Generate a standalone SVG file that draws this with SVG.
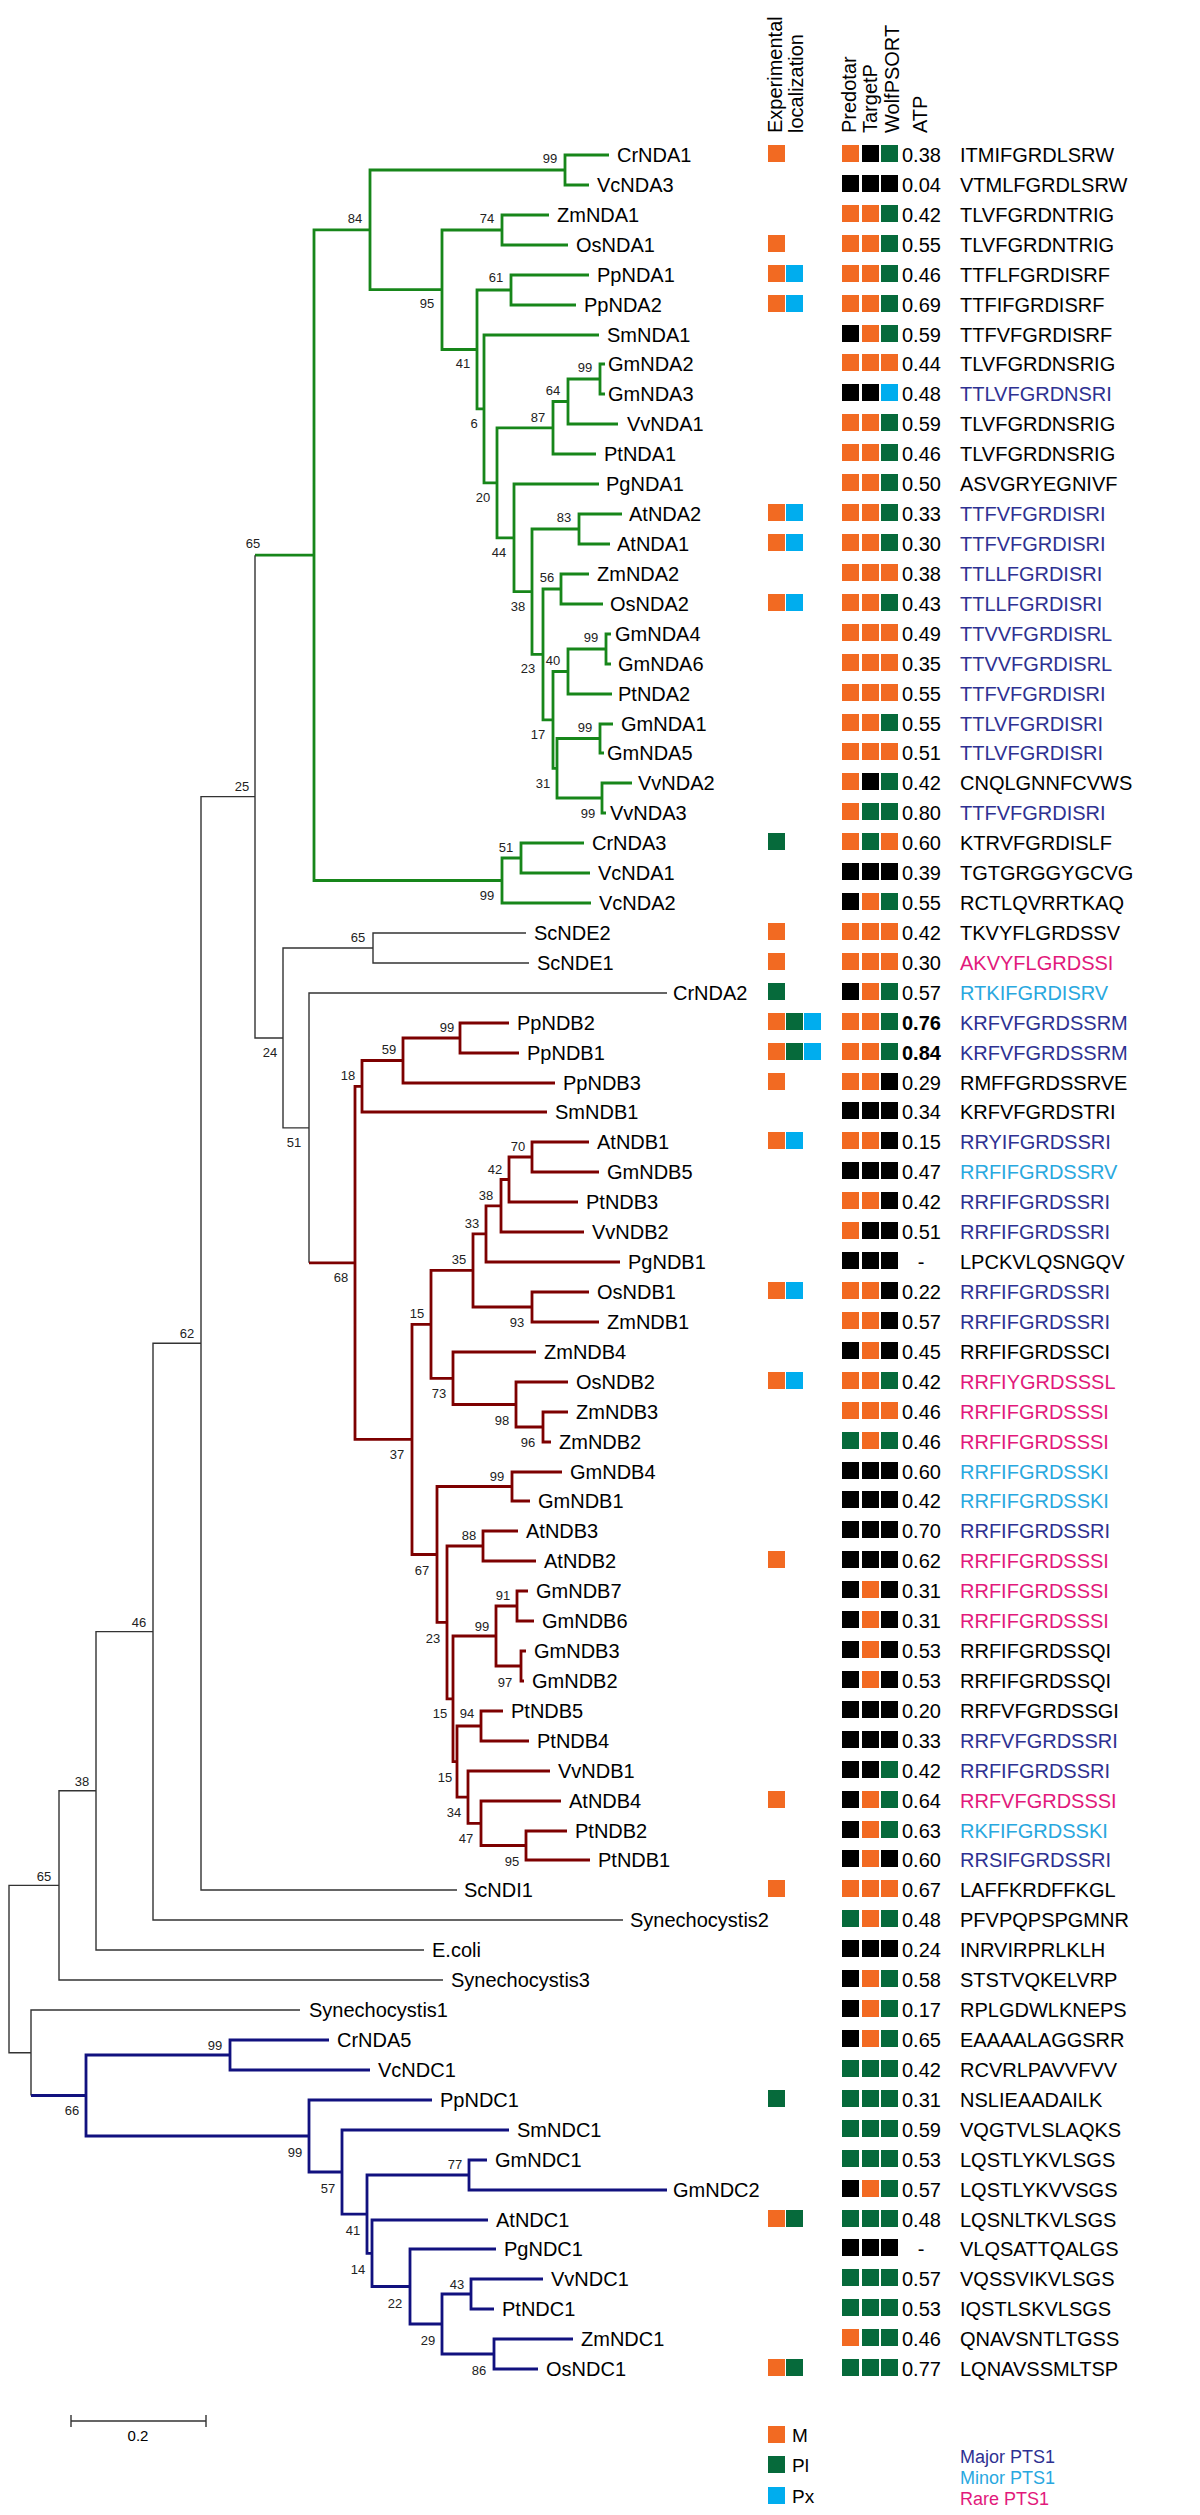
<svg xmlns="http://www.w3.org/2000/svg" xmlns:xlink="http://www.w3.org/1999/xlink" width="1200" height="2515" viewBox="0 0 1200 2515">
<style>
text{font-family:"Liberation Sans",Arial,sans-serif;fill:#000}
.n,.a,.s{font-size:20px}
.hd{font-size:20px}
.bs{font-size:13px;fill:#222;text-anchor:middle}
.maj{fill:#2e3192}.min{fill:#29a8df}.rare{fill:#e2197b}
.e{fill:none;stroke-linejoin:miter;stroke-linecap:butt}
.g{stroke:#17861a;stroke-width:2.8}
.r{stroke:#7d0000;stroke-width:2.8}
.b{stroke:#11117f;stroke-width:2.8}
.k{stroke:#333;stroke-width:1.4}
.lg{font-size:19px}
.pt{font-size:18px}
</style>
<defs>
<rect id="O" width="17" height="17" fill="#f26a22"/>
<rect id="G" width="17" height="17" fill="#066a3b"/>
<rect id="B" width="17" height="17" fill="#00adee"/>
<rect id="K" width="17" height="17" fill="#000"/>
</defs>
<rect width="1200" height="2515" fill="#fff"/>

<g id="connectors">
<path class="e g" d="M609,155H565V185H589M549,215H502V245H568M589,275H511V305H576M605,364H600V394H605M600,379H568V424H618M568,401.5H553V454H596M622,514H579V544H610M589,574H561V604H603M611,634H606V664H611M606,649H568V694H612M613,724H600V753H604M632,783H602V813H606M600,738.5H557V798H602M568,671.5H553V768.3H557M561,589H543V719.9H553M579,529H532V654.4H543M599,484H514V591.7H532M553,427.8H497V537.9H514M599,335H484V482.8H497M511,290H477V408.9H484M502,230H442V349.5H477M565,170H370V289.7H442M584,843H521V873H590M521,858H502V903H591M370,229.9H314V880.5H502M255,555.2H314"/>
<path class="e k" d="M526,933H373V963H529M373,948H283V1127.9H309M667,993H309V1262.8M255,555.2V1038H283M255,796.6H201V1890H457M201,1343.3H153V1920H623M153,1631.6H96V1950H424M96,1790.8H59V1980H443M59,1885.4H9V2052.8H31M300,2010H31V2095.5"/>
<path class="e r" d="M509,1023H460V1053H519M460,1038H403V1083H555M403,1060.5H362V1112H547M589,1142H532V1172H599M532,1157H509V1202H578M509,1179.5H501V1232H584M501,1205.8H486V1262H620M589,1292H532V1322H599M486,1233.9H473V1307H532M568,1412H543V1442H551M568,1382H516V1427H543M536,1352H453V1404.5H516M473,1270.4H431V1378.3H453M562,1472H512V1501H530M518,1531H483V1561H536M528,1591H517V1621H534M526,1651H521V1681H524M517,1606H496V1666H521M503,1711H481V1741H529M567,1831H526V1860H590M561,1801H481V1845.5H526M550,1771H468V1823.3H481M481,1726H457V1797.1H468M496,1636H453V1761.6H457M483,1546H447V1698.8H453M512,1486.5H437V1622.4H447M431,1324.3H412V1554.5H437M362,1086.3H355V1439.4H412M309,1262.8H355"/>
<path class="e b" d="M329,2040H230V2070H370M487,2160H469V2190H667M543,2279H471V2309H494M573,2339H494V2369H538M471,2294H442V2354H494M496,2249H410V2324H442M488,2220H372V2286.5H410M469,2175H367V2253.3H372M509,2130H342V2214.1H367M432,2100H309V2172H342M230,2055H86V2136H309M31,2095.5H86"/>
</g>

<g id="bootstrap">
<text class="bs" x="550" y="163">99</text><text class="bs" x="355" y="223">84</text><text class="bs" x="487" y="223">74</text><text class="bs" x="427" y="308">95</text><text class="bs" x="496" y="282">61</text><text class="bs" x="463" y="368">41</text><text class="bs" x="474" y="428">6</text><text class="bs" x="585" y="372">99</text><text class="bs" x="553" y="395">64</text><text class="bs" x="538" y="422">87</text><text class="bs" x="483" y="502">20</text><text class="bs" x="499" y="557">44</text><text class="bs" x="564" y="522">83</text><text class="bs" x="518" y="611">38</text><text class="bs" x="547" y="582">56</text><text class="bs" x="528" y="673">23</text><text class="bs" x="591" y="642">99</text><text class="bs" x="553" y="665">40</text><text class="bs" x="538" y="739">17</text><text class="bs" x="585" y="732">99</text><text class="bs" x="543" y="788">31</text><text class="bs" x="588" y="818">99</text><text class="bs" x="506" y="852">51</text><text class="bs" x="487" y="900">99</text><text class="bs" x="253" y="548">65</text>
<text class="bs" x="242" y="791">25</text><text class="bs" x="358" y="942">65</text><text class="bs" x="270" y="1057">24</text><text class="bs" x="294" y="1147">51</text><text class="bs" x="187" y="1338">62</text><text class="bs" x="139" y="1627">46</text><text class="bs" x="82" y="1786">38</text><text class="bs" x="44" y="1881">65</text>
<text class="bs" x="447" y="1032">99</text><text class="bs" x="389" y="1054">59</text><text class="bs" x="348" y="1080">18</text><text class="bs" x="518" y="1151">70</text><text class="bs" x="495" y="1174">42</text><text class="bs" x="486" y="1200">38</text><text class="bs" x="472" y="1228">33</text><text class="bs" x="459" y="1264">35</text><text class="bs" x="517" y="1327">93</text><text class="bs" x="417" y="1318">15</text><text class="bs" x="439" y="1398">73</text><text class="bs" x="502" y="1425">98</text><text class="bs" x="528" y="1447">96</text><text class="bs" x="397" y="1459">37</text><text class="bs" x="341" y="1282">68</text><text class="bs" x="497" y="1481">99</text><text class="bs" x="422" y="1575">67</text><text class="bs" x="469" y="1540">88</text><text class="bs" x="433" y="1643">23</text><text class="bs" x="503" y="1600">91</text><text class="bs" x="482" y="1631">99</text><text class="bs" x="505" y="1687">97</text><text class="bs" x="440" y="1718">15</text><text class="bs" x="467" y="1718">94</text><text class="bs" x="445" y="1782">15</text><text class="bs" x="454" y="1817">34</text><text class="bs" x="466" y="1843">47</text><text class="bs" x="512" y="1866">95</text>
<text class="bs" x="215" y="2050">99</text><text class="bs" x="72" y="2115">66</text><text class="bs" x="295" y="2157">99</text><text class="bs" x="455" y="2169">77</text><text class="bs" x="328" y="2193">57</text><text class="bs" x="353" y="2235">41</text><text class="bs" x="358" y="2274">14</text><text class="bs" x="395" y="2308">22</text><text class="bs" x="457" y="2289">43</text><text class="bs" x="428" y="2345">29</text><text class="bs" x="479" y="2375">86</text>
</g>

<g id="header">
<text class="hd" transform="translate(782,133) rotate(-90)">Experimental</text>
<text class="hd" transform="translate(803,133) rotate(-90)">localization</text>
<text class="hd" transform="translate(856,133) rotate(-90)">Predotar</text>
<text class="hd" transform="translate(877,133) rotate(-90)">TargetP</text>
<text class="hd" transform="translate(899,133) rotate(-90)">WolfPSORT</text>
<text class="hd" transform="translate(927,133) rotate(-90)">ATP</text>
</g>

<g id="n1" transform="translate(0,155)"><text class="n" x="617" y="7">CrNDA1</text><use href="#O" x="768" y="-10"/><use href="#O" x="842" y="-10"/><use href="#K" x="862" y="-10"/><use href="#G" x="881" y="-10"/><text class="a" x="902" y="7">0.38</text><text class="s" x="960" y="7">ITMIFGRDLSRW</text></g>
<g id="n2" transform="translate(0,185)"><text class="n" x="597" y="7">VcNDA3</text><use href="#K" x="842" y="-10"/><use href="#K" x="862" y="-10"/><use href="#K" x="881" y="-10"/><text class="a" x="902" y="7">0.04</text><text class="s" x="960" y="7">VTMLFGRDLSRW</text></g>
<g id="n3" transform="translate(0,215)"><text class="n" x="557" y="7">ZmNDA1</text><use href="#O" x="842" y="-10"/><use href="#O" x="862" y="-10"/><use href="#G" x="881" y="-10"/><text class="a" x="902" y="7">0.42</text><text class="s" x="960" y="7">TLVFGRDNTRIG</text></g>
<g id="n4" transform="translate(0,245)"><text class="n" x="576" y="7">OsNDA1</text><use href="#O" x="768" y="-10"/><use href="#O" x="842" y="-10"/><use href="#O" x="862" y="-10"/><use href="#G" x="881" y="-10"/><text class="a" x="902" y="7">0.55</text><text class="s" x="960" y="7">TLVFGRDNTRIG</text></g>
<g id="n5" transform="translate(0,275)"><text class="n" x="597" y="7">PpNDA1</text><use href="#O" x="768" y="-10"/><use href="#B" x="786" y="-10"/><use href="#O" x="842" y="-10"/><use href="#O" x="862" y="-10"/><use href="#G" x="881" y="-10"/><text class="a" x="902" y="7">0.46</text><text class="s" x="960" y="7">TTFLFGRDISRF</text></g>
<g id="n6" transform="translate(0,305)"><text class="n" x="584" y="7">PpNDA2</text><use href="#O" x="768" y="-10"/><use href="#B" x="786" y="-10"/><use href="#O" x="842" y="-10"/><use href="#O" x="862" y="-10"/><use href="#G" x="881" y="-10"/><text class="a" x="902" y="7">0.69</text><text class="s" x="960" y="7">TTFIFGRDISRF</text></g>
<g id="n7" transform="translate(0,335)"><text class="n" x="607" y="7">SmNDA1</text><use href="#K" x="842" y="-10"/><use href="#O" x="862" y="-10"/><use href="#G" x="881" y="-10"/><text class="a" x="902" y="7">0.59</text><text class="s" x="960" y="7">TTFVFGRDISRF</text></g>
<g id="n8" transform="translate(0,364)"><text class="n" x="608" y="7">GmNDA2</text><use href="#O" x="842" y="-10"/><use href="#O" x="862" y="-10"/><use href="#O" x="881" y="-10"/><text class="a" x="902" y="7">0.44</text><text class="s" x="960" y="7">TLVFGRDNSRIG</text></g>
<g id="n9" transform="translate(0,394)"><text class="n" x="608" y="7">GmNDA3</text><use href="#K" x="842" y="-10"/><use href="#K" x="862" y="-10"/><use href="#B" x="881" y="-10"/><text class="a" x="902" y="7">0.48</text><text class="s maj" x="960" y="7">TTLVFGRDNSRI</text></g>
<g id="n10" transform="translate(0,424)"><text class="n" x="627" y="7">VvNDA1</text><use href="#O" x="842" y="-10"/><use href="#O" x="862" y="-10"/><use href="#G" x="881" y="-10"/><text class="a" x="902" y="7">0.59</text><text class="s" x="960" y="7">TLVFGRDNSRIG</text></g>
<g id="n11" transform="translate(0,454)"><text class="n" x="604" y="7">PtNDA1</text><use href="#O" x="842" y="-10"/><use href="#O" x="862" y="-10"/><use href="#G" x="881" y="-10"/><text class="a" x="902" y="7">0.46</text><text class="s" x="960" y="7">TLVFGRDNSRIG</text></g>
<g id="n12" transform="translate(0,484)"><text class="n" x="606" y="7">PgNDA1</text><use href="#O" x="842" y="-10"/><use href="#O" x="862" y="-10"/><use href="#G" x="881" y="-10"/><text class="a" x="902" y="7">0.50</text><text class="s" x="960" y="7">ASVGRYEGNIVF</text></g>
<g id="n13" transform="translate(0,514)"><text class="n" x="629" y="7">AtNDA2</text><use href="#O" x="768" y="-10"/><use href="#B" x="786" y="-10"/><use href="#O" x="842" y="-10"/><use href="#O" x="862" y="-10"/><use href="#G" x="881" y="-10"/><text class="a" x="902" y="7">0.33</text><text class="s maj" x="960" y="7">TTFVFGRDISRI</text></g>
<g id="n14" transform="translate(0,544)"><text class="n" x="617" y="7">AtNDA1</text><use href="#O" x="768" y="-10"/><use href="#B" x="786" y="-10"/><use href="#O" x="842" y="-10"/><use href="#O" x="862" y="-10"/><use href="#G" x="881" y="-10"/><text class="a" x="902" y="7">0.30</text><text class="s maj" x="960" y="7">TTFVFGRDISRI</text></g>
<g id="n15" transform="translate(0,574)"><text class="n" x="597" y="7">ZmNDA2</text><use href="#O" x="842" y="-10"/><use href="#O" x="862" y="-10"/><use href="#O" x="881" y="-10"/><text class="a" x="902" y="7">0.38</text><text class="s maj" x="960" y="7">TTLLFGRDISRI</text></g>
<g id="n16" transform="translate(0,604)"><text class="n" x="610" y="7">OsNDA2</text><use href="#O" x="768" y="-10"/><use href="#B" x="786" y="-10"/><use href="#O" x="842" y="-10"/><use href="#O" x="862" y="-10"/><use href="#G" x="881" y="-10"/><text class="a" x="902" y="7">0.43</text><text class="s maj" x="960" y="7">TTLLFGRDISRI</text></g>
<g id="n17" transform="translate(0,634)"><text class="n" x="615" y="7">GmNDA4</text><use href="#O" x="842" y="-10"/><use href="#O" x="862" y="-10"/><use href="#O" x="881" y="-10"/><text class="a" x="902" y="7">0.49</text><text class="s maj" x="960" y="7">TTVVFGRDISRL</text></g>
<g id="n18" transform="translate(0,664)"><text class="n" x="618" y="7">GmNDA6</text><use href="#O" x="842" y="-10"/><use href="#O" x="862" y="-10"/><use href="#O" x="881" y="-10"/><text class="a" x="902" y="7">0.35</text><text class="s maj" x="960" y="7">TTVVFGRDISRL</text></g>
<g id="n19" transform="translate(0,694)"><text class="n" x="618" y="7">PtNDA2</text><use href="#O" x="842" y="-10"/><use href="#O" x="862" y="-10"/><use href="#O" x="881" y="-10"/><text class="a" x="902" y="7">0.55</text><text class="s maj" x="960" y="7">TTFVFGRDISRI</text></g>
<g id="n20" transform="translate(0,724)"><text class="n" x="621" y="7">GmNDA1</text><use href="#O" x="842" y="-10"/><use href="#O" x="862" y="-10"/><use href="#G" x="881" y="-10"/><text class="a" x="902" y="7">0.55</text><text class="s maj" x="960" y="7">TTLVFGRDISRI</text></g>
<g id="n21" transform="translate(0,753)"><text class="n" x="607" y="7">GmNDA5</text><use href="#O" x="842" y="-10"/><use href="#O" x="862" y="-10"/><use href="#O" x="881" y="-10"/><text class="a" x="902" y="7">0.51</text><text class="s maj" x="960" y="7">TTLVFGRDISRI</text></g>
<g id="n22" transform="translate(0,783)"><text class="n" x="638" y="7">VvNDA2</text><use href="#O" x="842" y="-10"/><use href="#K" x="862" y="-10"/><use href="#G" x="881" y="-10"/><text class="a" x="902" y="7">0.42</text><text class="s" x="960" y="7">CNQLGNNFCVWS</text></g>
<g id="n23" transform="translate(0,813)"><text class="n" x="610" y="7">VvNDA3</text><use href="#O" x="842" y="-10"/><use href="#G" x="862" y="-10"/><use href="#G" x="881" y="-10"/><text class="a" x="902" y="7">0.80</text><text class="s maj" x="960" y="7">TTFVFGRDISRI</text></g>
<g id="n24" transform="translate(0,843)"><text class="n" x="592" y="7">CrNDA3</text><use href="#G" x="768" y="-10"/><use href="#O" x="842" y="-10"/><use href="#G" x="862" y="-10"/><use href="#O" x="881" y="-10"/><text class="a" x="902" y="7">0.60</text><text class="s" x="960" y="7">KTRVFGRDISLF</text></g>
<g id="n25" transform="translate(0,873)"><text class="n" x="598" y="7">VcNDA1</text><use href="#K" x="842" y="-10"/><use href="#K" x="862" y="-10"/><use href="#K" x="881" y="-10"/><text class="a" x="902" y="7">0.39</text><text class="s" x="960" y="7">TGTGRGGYGCVG</text></g>
<g id="n26" transform="translate(0,903)"><text class="n" x="599" y="7">VcNDA2</text><use href="#K" x="842" y="-10"/><use href="#O" x="862" y="-10"/><use href="#G" x="881" y="-10"/><text class="a" x="902" y="7">0.55</text><text class="s" x="960" y="7">RCTLQVRRTKAQ</text></g>
<g id="n27" transform="translate(0,933)"><text class="n" x="534" y="7">ScNDE2</text><use href="#O" x="768" y="-10"/><use href="#O" x="842" y="-10"/><use href="#O" x="862" y="-10"/><use href="#O" x="881" y="-10"/><text class="a" x="902" y="7">0.42</text><text class="s" x="960" y="7">TKVYFLGRDSSV</text></g>
<g id="n28" transform="translate(0,963)"><text class="n" x="537" y="7">ScNDE1</text><use href="#O" x="768" y="-10"/><use href="#O" x="842" y="-10"/><use href="#O" x="862" y="-10"/><use href="#O" x="881" y="-10"/><text class="a" x="902" y="7">0.30</text><text class="s rare" x="960" y="7">AKVYFLGRDSSI</text></g>
<g id="n29" transform="translate(0,993)"><text class="n" x="673" y="7">CrNDA2</text><use href="#G" x="768" y="-10"/><use href="#K" x="842" y="-10"/><use href="#O" x="862" y="-10"/><use href="#G" x="881" y="-10"/><text class="a" x="902" y="7">0.57</text><text class="s min" x="960" y="7">RTKIFGRDISRV</text></g>
<g id="n30" transform="translate(0,1023)"><text class="n" x="517" y="7">PpNDB2</text><use href="#O" x="768" y="-10"/><use href="#G" x="786" y="-10"/><use href="#B" x="804" y="-10"/><use href="#O" x="842" y="-10"/><use href="#O" x="862" y="-10"/><use href="#G" x="881" y="-10"/><text class="a" x="902" y="7" font-weight="bold">0.76</text><text class="s maj" x="960" y="7">KRFVFGRDSSRM</text></g>
<g id="n31" transform="translate(0,1053)"><text class="n" x="527" y="7">PpNDB1</text><use href="#O" x="768" y="-10"/><use href="#G" x="786" y="-10"/><use href="#B" x="804" y="-10"/><use href="#O" x="842" y="-10"/><use href="#O" x="862" y="-10"/><use href="#G" x="881" y="-10"/><text class="a" x="902" y="7" font-weight="bold">0.84</text><text class="s maj" x="960" y="7">KRFVFGRDSSRM</text></g>
<g id="n32" transform="translate(0,1083)"><text class="n" x="563" y="7">PpNDB3</text><use href="#O" x="768" y="-10"/><use href="#O" x="842" y="-10"/><use href="#O" x="862" y="-10"/><use href="#K" x="881" y="-10"/><text class="a" x="902" y="7">0.29</text><text class="s" x="960" y="7">RMFFGRDSSRVE</text></g>
<g id="n33" transform="translate(0,1112)"><text class="n" x="555" y="7">SmNDB1</text><use href="#K" x="842" y="-10"/><use href="#K" x="862" y="-10"/><use href="#K" x="881" y="-10"/><text class="a" x="902" y="7">0.34</text><text class="s" x="960" y="7">KRFVFGRDSTRI</text></g>
<g id="n34" transform="translate(0,1142)"><text class="n" x="597" y="7">AtNDB1</text><use href="#O" x="768" y="-10"/><use href="#B" x="786" y="-10"/><use href="#O" x="842" y="-10"/><use href="#O" x="862" y="-10"/><use href="#K" x="881" y="-10"/><text class="a" x="902" y="7">0.15</text><text class="s maj" x="960" y="7">RRYIFGRDSSRI</text></g>
<g id="n35" transform="translate(0,1172)"><text class="n" x="607" y="7">GmNDB5</text><use href="#K" x="842" y="-10"/><use href="#K" x="862" y="-10"/><use href="#K" x="881" y="-10"/><text class="a" x="902" y="7">0.47</text><text class="s min" x="960" y="7">RRFIFGRDSSRV</text></g>
<g id="n36" transform="translate(0,1202)"><text class="n" x="586" y="7">PtNDB3</text><use href="#O" x="842" y="-10"/><use href="#O" x="862" y="-10"/><use href="#K" x="881" y="-10"/><text class="a" x="902" y="7">0.42</text><text class="s maj" x="960" y="7">RRFIFGRDSSRI</text></g>
<g id="n37" transform="translate(0,1232)"><text class="n" x="592" y="7">VvNDB2</text><use href="#O" x="842" y="-10"/><use href="#K" x="862" y="-10"/><use href="#K" x="881" y="-10"/><text class="a" x="902" y="7">0.51</text><text class="s maj" x="960" y="7">RRFIFGRDSSRI</text></g>
<g id="n38" transform="translate(0,1262)"><text class="n" x="628" y="7">PgNDB1</text><use href="#K" x="842" y="-10"/><use href="#K" x="862" y="-10"/><use href="#K" x="881" y="-10"/><text class="a" x="921" y="7" text-anchor="middle">-</text><text class="s" x="960" y="7">LPCKVLQSNGQV</text></g>
<g id="n39" transform="translate(0,1292)"><text class="n" x="597" y="7">OsNDB1</text><use href="#O" x="768" y="-10"/><use href="#B" x="786" y="-10"/><use href="#O" x="842" y="-10"/><use href="#O" x="862" y="-10"/><use href="#K" x="881" y="-10"/><text class="a" x="902" y="7">0.22</text><text class="s maj" x="960" y="7">RRFIFGRDSSRI</text></g>
<g id="n40" transform="translate(0,1322)"><text class="n" x="607" y="7">ZmNDB1</text><use href="#O" x="842" y="-10"/><use href="#O" x="862" y="-10"/><use href="#K" x="881" y="-10"/><text class="a" x="902" y="7">0.57</text><text class="s maj" x="960" y="7">RRFIFGRDSSRI</text></g>
<g id="n41" transform="translate(0,1352)"><text class="n" x="544" y="7">ZmNDB4</text><use href="#K" x="842" y="-10"/><use href="#O" x="862" y="-10"/><use href="#K" x="881" y="-10"/><text class="a" x="902" y="7">0.45</text><text class="s" x="960" y="7">RRFIFGRDSSCI</text></g>
<g id="n42" transform="translate(0,1382)"><text class="n" x="576" y="7">OsNDB2</text><use href="#O" x="768" y="-10"/><use href="#B" x="786" y="-10"/><use href="#O" x="842" y="-10"/><use href="#O" x="862" y="-10"/><use href="#G" x="881" y="-10"/><text class="a" x="902" y="7">0.42</text><text class="s rare" x="960" y="7">RRFIYGRDSSSL</text></g>
<g id="n43" transform="translate(0,1412)"><text class="n" x="576" y="7">ZmNDB3</text><use href="#O" x="842" y="-10"/><use href="#O" x="862" y="-10"/><use href="#O" x="881" y="-10"/><text class="a" x="902" y="7">0.46</text><text class="s rare" x="960" y="7">RRFIFGRDSSSI</text></g>
<g id="n44" transform="translate(0,1442)"><text class="n" x="559" y="7">ZmNDB2</text><use href="#G" x="842" y="-10"/><use href="#O" x="862" y="-10"/><use href="#G" x="881" y="-10"/><text class="a" x="902" y="7">0.46</text><text class="s rare" x="960" y="7">RRFIFGRDSSSI</text></g>
<g id="n45" transform="translate(0,1472)"><text class="n" x="570" y="7">GmNDB4</text><use href="#K" x="842" y="-10"/><use href="#K" x="862" y="-10"/><use href="#K" x="881" y="-10"/><text class="a" x="902" y="7">0.60</text><text class="s min" x="960" y="7">RRFIFGRDSSKI</text></g>
<g id="n46" transform="translate(0,1501)"><text class="n" x="538" y="7">GmNDB1</text><use href="#K" x="842" y="-10"/><use href="#K" x="862" y="-10"/><use href="#K" x="881" y="-10"/><text class="a" x="902" y="7">0.42</text><text class="s min" x="960" y="7">RRFIFGRDSSKI</text></g>
<g id="n47" transform="translate(0,1531)"><text class="n" x="526" y="7">AtNDB3</text><use href="#K" x="842" y="-10"/><use href="#K" x="862" y="-10"/><use href="#K" x="881" y="-10"/><text class="a" x="902" y="7">0.70</text><text class="s maj" x="960" y="7">RRFIFGRDSSRI</text></g>
<g id="n48" transform="translate(0,1561)"><text class="n" x="544" y="7">AtNDB2</text><use href="#O" x="768" y="-10"/><use href="#K" x="842" y="-10"/><use href="#K" x="862" y="-10"/><use href="#K" x="881" y="-10"/><text class="a" x="902" y="7">0.62</text><text class="s rare" x="960" y="7">RRFIFGRDSSSI</text></g>
<g id="n49" transform="translate(0,1591)"><text class="n" x="536" y="7">GmNDB7</text><use href="#K" x="842" y="-10"/><use href="#O" x="862" y="-10"/><use href="#K" x="881" y="-10"/><text class="a" x="902" y="7">0.31</text><text class="s rare" x="960" y="7">RRFIFGRDSSSI</text></g>
<g id="n50" transform="translate(0,1621)"><text class="n" x="542" y="7">GmNDB6</text><use href="#K" x="842" y="-10"/><use href="#O" x="862" y="-10"/><use href="#K" x="881" y="-10"/><text class="a" x="902" y="7">0.31</text><text class="s rare" x="960" y="7">RRFIFGRDSSSI</text></g>
<g id="n51" transform="translate(0,1651)"><text class="n" x="534" y="7">GmNDB3</text><use href="#K" x="842" y="-10"/><use href="#O" x="862" y="-10"/><use href="#K" x="881" y="-10"/><text class="a" x="902" y="7">0.53</text><text class="s" x="960" y="7">RRFIFGRDSSQI</text></g>
<g id="n52" transform="translate(0,1681)"><text class="n" x="532" y="7">GmNDB2</text><use href="#K" x="842" y="-10"/><use href="#O" x="862" y="-10"/><use href="#K" x="881" y="-10"/><text class="a" x="902" y="7">0.53</text><text class="s" x="960" y="7">RRFIFGRDSSQI</text></g>
<g id="n53" transform="translate(0,1711)"><text class="n" x="511" y="7">PtNDB5</text><use href="#K" x="842" y="-10"/><use href="#K" x="862" y="-10"/><use href="#K" x="881" y="-10"/><text class="a" x="902" y="7">0.20</text><text class="s" x="960" y="7">RRFVFGRDSSGI</text></g>
<g id="n54" transform="translate(0,1741)"><text class="n" x="537" y="7">PtNDB4</text><use href="#K" x="842" y="-10"/><use href="#K" x="862" y="-10"/><use href="#K" x="881" y="-10"/><text class="a" x="902" y="7">0.33</text><text class="s maj" x="960" y="7">RRFVFGRDSSRI</text></g>
<g id="n55" transform="translate(0,1771)"><text class="n" x="558" y="7">VvNDB1</text><use href="#K" x="842" y="-10"/><use href="#K" x="862" y="-10"/><use href="#G" x="881" y="-10"/><text class="a" x="902" y="7">0.42</text><text class="s maj" x="960" y="7">RRFIFGRDSSRI</text></g>
<g id="n56" transform="translate(0,1801)"><text class="n" x="569" y="7">AtNDB4</text><use href="#O" x="768" y="-10"/><use href="#K" x="842" y="-10"/><use href="#O" x="862" y="-10"/><use href="#G" x="881" y="-10"/><text class="a" x="902" y="7">0.64</text><text class="s rare" x="960" y="7">RRFVFGRDSSSI</text></g>
<g id="n57" transform="translate(0,1831)"><text class="n" x="575" y="7">PtNDB2</text><use href="#K" x="842" y="-10"/><use href="#O" x="862" y="-10"/><use href="#G" x="881" y="-10"/><text class="a" x="902" y="7">0.63</text><text class="s min" x="960" y="7">RKFIFGRDSSKI</text></g>
<g id="n58" transform="translate(0,1860)"><text class="n" x="598" y="7">PtNDB1</text><use href="#K" x="842" y="-10"/><use href="#O" x="862" y="-10"/><use href="#K" x="881" y="-10"/><text class="a" x="902" y="7">0.60</text><text class="s maj" x="960" y="7">RRSIFGRDSSRI</text></g>
<g id="n59" transform="translate(0,1890)"><text class="n" x="464" y="7">ScNDI1</text><use href="#O" x="768" y="-10"/><use href="#O" x="842" y="-10"/><use href="#O" x="862" y="-10"/><use href="#O" x="881" y="-10"/><text class="a" x="902" y="7">0.67</text><text class="s" x="960" y="7">LAFFKRDFFKGL</text></g>
<g id="n60" transform="translate(0,1920)"><text class="n" x="630" y="7">Synechocystis2</text><use href="#G" x="842" y="-10"/><use href="#O" x="862" y="-10"/><use href="#G" x="881" y="-10"/><text class="a" x="902" y="7">0.48</text><text class="s" x="960" y="7">PFVPQPSPGMNR</text></g>
<g id="n61" transform="translate(0,1950)"><text class="n" x="432" y="7">E.coli</text><use href="#K" x="842" y="-10"/><use href="#K" x="862" y="-10"/><use href="#K" x="881" y="-10"/><text class="a" x="902" y="7">0.24</text><text class="s" x="960" y="7">INRVIRPRLKLH</text></g>
<g id="n62" transform="translate(0,1980)"><text class="n" x="451" y="7">Synechocystis3</text><use href="#K" x="842" y="-10"/><use href="#O" x="862" y="-10"/><use href="#G" x="881" y="-10"/><text class="a" x="902" y="7">0.58</text><text class="s" x="960" y="7">STSTVQKELVRP</text></g>
<g id="n63" transform="translate(0,2010)"><text class="n" x="309" y="7">Synechocystis1</text><use href="#K" x="842" y="-10"/><use href="#O" x="862" y="-10"/><use href="#G" x="881" y="-10"/><text class="a" x="902" y="7">0.17</text><text class="s" x="960" y="7">RPLGDWLKNEPS</text></g>
<g id="n64" transform="translate(0,2040)"><text class="n" x="337" y="7">CrNDA5</text><use href="#K" x="842" y="-10"/><use href="#O" x="862" y="-10"/><use href="#G" x="881" y="-10"/><text class="a" x="902" y="7">0.65</text><text class="s" x="960" y="7">EAAAALAGGSRR</text></g>
<g id="n65" transform="translate(0,2070)"><text class="n" x="378" y="7">VcNDC1</text><use href="#G" x="842" y="-10"/><use href="#G" x="862" y="-10"/><use href="#G" x="881" y="-10"/><text class="a" x="902" y="7">0.42</text><text class="s" x="960" y="7">RCVRLPAVVFVV</text></g>
<g id="n66" transform="translate(0,2100)"><text class="n" x="440" y="7">PpNDC1</text><use href="#G" x="768" y="-10"/><use href="#G" x="842" y="-10"/><use href="#G" x="862" y="-10"/><use href="#G" x="881" y="-10"/><text class="a" x="902" y="7">0.31</text><text class="s" x="960" y="7">NSLIEAADAILK</text></g>
<g id="n67" transform="translate(0,2130)"><text class="n" x="517" y="7">SmNDC1</text><use href="#G" x="842" y="-10"/><use href="#G" x="862" y="-10"/><use href="#G" x="881" y="-10"/><text class="a" x="902" y="7">0.59</text><text class="s" x="960" y="7">VQGTVLSLAQKS</text></g>
<g id="n68" transform="translate(0,2160)"><text class="n" x="495" y="7">GmNDC1</text><use href="#G" x="842" y="-10"/><use href="#G" x="862" y="-10"/><use href="#G" x="881" y="-10"/><text class="a" x="902" y="7">0.53</text><text class="s" x="960" y="7">LQSTLYKVLSGS</text></g>
<g id="n69" transform="translate(0,2190)"><text class="n" x="673" y="7">GmNDC2</text><use href="#K" x="842" y="-10"/><use href="#O" x="862" y="-10"/><use href="#G" x="881" y="-10"/><text class="a" x="902" y="7">0.57</text><text class="s" x="960" y="7">LQSTLYKVVSGS</text></g>
<g id="n70" transform="translate(0,2220)"><text class="n" x="496" y="7">AtNDC1</text><use href="#O" x="768" y="-10"/><use href="#G" x="786" y="-10"/><use href="#G" x="842" y="-10"/><use href="#G" x="862" y="-10"/><use href="#G" x="881" y="-10"/><text class="a" x="902" y="7">0.48</text><text class="s" x="960" y="7">LQSNLTKVLSGS</text></g>
<g id="n71" transform="translate(0,2249)"><text class="n" x="504" y="7">PgNDC1</text><use href="#K" x="842" y="-10"/><use href="#K" x="862" y="-10"/><use href="#K" x="881" y="-10"/><text class="a" x="921" y="7" text-anchor="middle">-</text><text class="s" x="960" y="7">VLQSATTQALGS</text></g>
<g id="n72" transform="translate(0,2279)"><text class="n" x="551" y="7">VvNDC1</text><use href="#G" x="842" y="-10"/><use href="#G" x="862" y="-10"/><use href="#G" x="881" y="-10"/><text class="a" x="902" y="7">0.57</text><text class="s" x="960" y="7">VQSSVIKVLSGS</text></g>
<g id="n73" transform="translate(0,2309)"><text class="n" x="502" y="7">PtNDC1</text><use href="#G" x="842" y="-10"/><use href="#G" x="862" y="-10"/><use href="#G" x="881" y="-10"/><text class="a" x="902" y="7">0.53</text><text class="s" x="960" y="7">IQSTLSKVLSGS</text></g>
<g id="n74" transform="translate(0,2339)"><text class="n" x="581" y="7">ZmNDC1</text><use href="#O" x="842" y="-10"/><use href="#G" x="862" y="-10"/><use href="#G" x="881" y="-10"/><text class="a" x="902" y="7">0.46</text><text class="s" x="960" y="7">QNAVSNTLTGSS</text></g>
<g id="n75" transform="translate(0,2369)"><text class="n" x="546" y="7">OsNDC1</text><use href="#O" x="768" y="-10"/><use href="#G" x="786" y="-10"/><use href="#G" x="842" y="-10"/><use href="#G" x="862" y="-10"/><use href="#G" x="881" y="-10"/><text class="a" x="902" y="7">0.77</text><text class="s" x="960" y="7">LQNAVSSMLTSP</text></g>

<g id="scalebar">
<path class="e k" d="M71,2421H206M71,2415V2427M206,2415V2427"/>
<text x="138" y="2441" font-size="15" text-anchor="middle">0.2</text>
</g>

<g id="legend">
<use href="#O" x="768" y="2426"/><text class="lg" x="792" y="2442">M</text>
<use href="#G" x="768" y="2456"/><text class="lg" x="792" y="2472">Pl</text>
<use href="#B" x="768" y="2487"/><text class="lg" x="792" y="2503">Px</text>
<text class="pt maj" x="960" y="2463">Major PTS1</text>
<text class="pt min" x="960" y="2484">Minor PTS1</text>
<text class="pt rare" x="960" y="2505">Rare PTS1</text>
</g>
</svg>
